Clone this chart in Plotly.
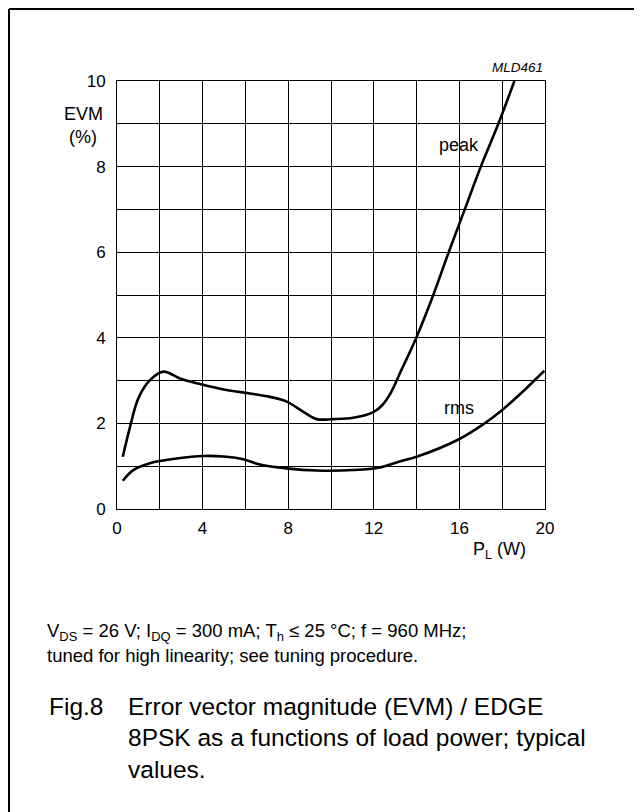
import plotly.graph_objects as go

# ---- data ----
peak_x = [0.27, 0.61, 1.0, 1.54, 2.17, 2.94, 3.88, 5.12, 6.21, 7.15, 7.93, 8.71, 9.33, 10.1,
          11.04, 12.0, 12.4, 12.8, 13.2, 14.0, 14.78, 15.5, 16.25, 17.0, 17.82, 18.57]
peak_y = [1.22, 1.92, 2.59, 3.01, 3.21, 3.05, 2.92, 2.78, 2.70, 2.62, 2.51, 2.27, 2.10, 2.10,
          2.13, 2.27, 2.43, 2.72, 3.15, 4.02, 5.0, 6.0, 7.0, 8.0, 9.0, 10.0]

rms_x = [0.27, 0.76, 1.54, 2.79, 4.03, 5.12, 5.9, 6.68, 7.93, 9.33, 11.04, 12.29, 13.2, 14.0,
         15.98, 17.12, 17.9, 18.83, 19.97]
rms_y = [0.66, 0.91, 1.07, 1.18, 1.24, 1.22, 1.16, 1.04, 0.95, 0.90, 0.91, 0.97, 1.11, 1.22,
         1.63, 1.98, 2.27, 2.68, 3.23]

x_tickvals = [0, 2, 4, 6, 8, 10, 12, 14, 16, 18, 20]
x_ticktext = ["0", "", "4", "", "8", "", "12", "", "16", "", "20"]
y_tickvals = [0, 1, 2, 3, 4, 5, 6, 7, 8, 9, 10]
y_ticktext = ["0", "", "2", "", "4", "", "6", "", "8", "", "10"]

FONT = "Liberation Sans, Arial, sans-serif"
OFF = 8                      # page offset of the figure (body margin)
W, H = 642 - OFF, 812 - OFF
L, T, PW, PH = 117 - OFF, 81 - OFF, 428, 428
R = W - L - PW
B = H - T - PH


def px(xp):   # page pixel -> paper x
    return (xp - OFF - L) / PW


def py(yp):   # page pixel -> paper y
    return (T + PH - (yp - OFF)) / PH


fig = go.Figure()
line_style = dict(color="black", width=2.6, shape="spline", smoothing=1.0)
fig.add_trace(go.Scatter(x=peak_x, y=peak_y, mode="lines", line=line_style,
                         hoverinfo="skip", showlegend=False))
fig.add_trace(go.Scatter(x=rms_x, y=rms_y, mode="lines", line=line_style,
                         hoverinfo="skip", showlegend=False))

axis_common = dict(
    showgrid=True, gridcolor="black", gridwidth=1,
    showline=True, linecolor="black", linewidth=1, mirror=True,
    zeroline=False, ticks="", tickfont=dict(family=FONT, size=17, color="black"),
    fixedrange=True,
)
fig.update_xaxes(range=[0, 20], tickvals=x_tickvals, ticktext=x_ticktext, ticklabelstandoff=4,
                 **axis_common)
fig.update_yaxes(range=[0, 10], tickvals=y_tickvals, ticktext=y_ticktext, ticklabelstandoff=7,
                 **axis_common)

ann = []
txt = dict(family=FONT, color="black")


def note(xp, yp, text, size, xanchor="center", italic=False):
    ann.append(dict(x=px(xp), y=py(yp), xref="paper", yref="paper", text=text,
                    xanchor=xanchor, yanchor="middle", showarrow=False,
                    font=dict(size=size, **txt)))


note(83, 114, "EVM", 18)
note(83, 137, "(%)", 18)
note(471, 550, "P<sub>L</sub> (W)", 18, xanchor="left")
note(545, 68, "<i>MLD461</i>", 13.5, xanchor="right")
ann.append(dict(x=16.0, y=8.5, xref="x", yref="y", text="peak", xanchor="center",
                yanchor="middle", showarrow=False, font=dict(size=18, **txt)))
ann.append(dict(x=16.0, y=2.36, xref="x", yref="y", text="rms", xanchor="center",
                yanchor="middle", showarrow=False, font=dict(size=18, **txt)))

note(45, 632, "V<sub>DS</sub> = 26 V; I<sub>DQ</sub> = 300 mA; T<sub>h</sub> \u2264 25 \u00b0C; f = 960 MHz;",
     18.5, xanchor="left")
note(45, 655, "tuned for high linearity; see tuning procedure.", 18.5, xanchor="left")

note(47, 706, "Fig.8", 24.5, xanchor="left")
cap_lines = ["Error vector magnitude (EVM) / EDGE",
             "8PSK as a functions of load power; typical",
             "values."]
for i, s in enumerate(cap_lines):
    note(126, 706 + 31.5 * i, s, 24.5, xanchor="left")

shapes = [
    dict(type="line", xref="paper", yref="paper", x0=px(9), y0=py(9), x1=px(660), y1=py(9),
         line=dict(color="black", width=2)),
    dict(type="line", xref="paper", yref="paper", x0=px(9), y0=py(9), x1=px(9), y1=py(830),
         line=dict(color="black", width=2)),
]

fig.update_layout(
    width=W, height=H, margin=dict(l=L, r=R, t=T, b=B, pad=0),
    paper_bgcolor="white", plot_bgcolor="white",
    annotations=ann, shapes=shapes,
    font=dict(family=FONT, color="black"),
)

fig.write_html("out.html", config={"displayModeBar": False})
